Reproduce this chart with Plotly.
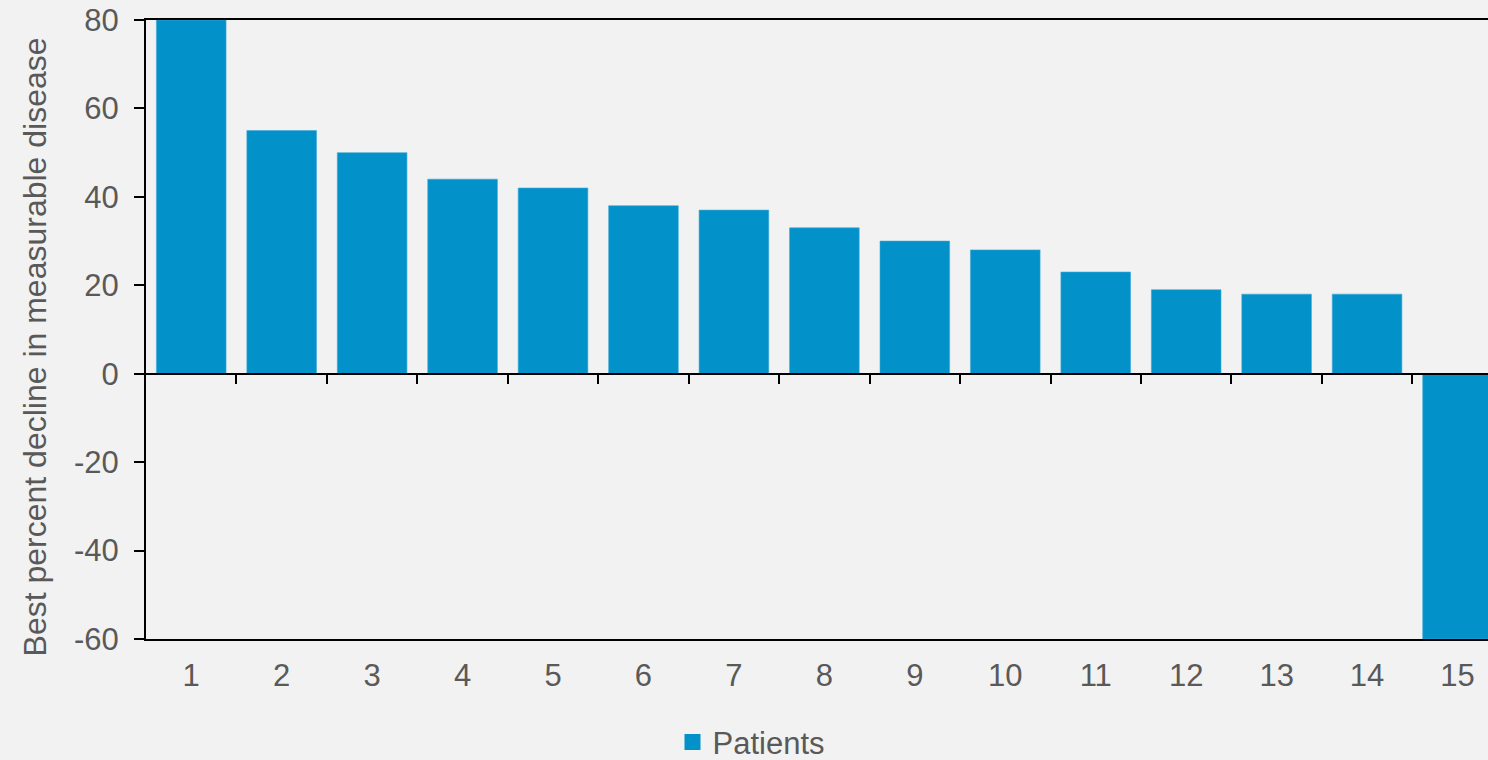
import plotly.graph_objects as go

# Best percent decline in measurable disease, one bar per patient
patients = list(range(1, 16))
best_decline = [80, 55, 50, 44, 42, 38, 37, 33, 30, 28, 23, 19, 18, 18, -60]
y_ticks = [-60, -40, -20, 0, 20, 40, 60, 80]
y_tick_text = ["-60", "-40", "-20", "0", "20", "40", "60", "80"]

BAR_COLOR = "#0291C8"
TEXT_COLOR = "#595959"
BG = "#F2F2F2"
FONT = "Liberation Sans, Arial, sans-serif"

x_range = [0.5, 15.337]
y_range = [-60, 80]

fig = go.Figure()

fig.add_trace(go.Bar(
    x=patients,
    y=best_decline,
    marker=dict(color=BAR_COLOR, line=dict(color="#3FA9D6", width=0.6)),
    width=0.77,
    showlegend=False,
    xaxis="x",
    yaxis="y",
))

# legend entry drawn as a square swatch
fig.add_trace(go.Scatter(
    x=[None], y=[None],
    mode="markers",
    marker=dict(symbol="square", size=16, color=BAR_COLOR),
    name="Patients",
    showlegend=True,
))

# invisible trace so the zero-line axis is built
fig.add_trace(go.Scatter(
    x=[None], y=[None], mode="markers", showlegend=False,
    hoverinfo="skip", xaxis="x2", yaxis="y",
))

zero_pos = (0 - y_range[0]) / (y_range[1] - y_range[0])

fig.update_layout(
    width=1488,
    height=760,
    margin=dict(l=146, r=0, t=20, b=121, autoexpand=False),
    paper_bgcolor=BG,
    plot_bgcolor=BG,
    font=dict(family=FONT, size=31, color=TEXT_COLOR),
    bargap=0.23,
    xaxis=dict(
        range=x_range,
        tickmode="array",
        tickvals=patients,
        ticktext=[str(p) for p in patients],
        ticks="",
        showline=True,
        linecolor="black",
        linewidth=2,
        mirror=True,
        showgrid=False,
        zeroline=False,
        automargin=False,
        ticklabelstandoff=8,
        tickfont=dict(family=FONT, size=31, color=TEXT_COLOR),
    ),
    xaxis2=dict(
        range=x_range,
        overlaying="x",
        anchor="free",
        position=zero_pos,
        side="bottom",
        tickmode="array",
        tickvals=[p + 0.5 for p in patients[:-1]],
        ticks="outside",
        ticklen=9,
        tickwidth=2,
        tickcolor="black",
        showticklabels=False,
        showline=True,
        linecolor="black",
        linewidth=2,
        showgrid=False,
        zeroline=False,
        automargin=False,
    ),
    yaxis=dict(
        range=y_range,
        tickmode="array",
        tickvals=y_ticks,
        ticktext=y_tick_text,
        ticks="outside",
        ticklen=10,
        tickwidth=2,
        tickcolor="black",
        showline=True,
        linecolor="black",
        linewidth=2,
        showgrid=False,
        zeroline=False,
        automargin=False,
        ticklabelstandoff=9,
        tickfont=dict(family=FONT, size=31, color=TEXT_COLOR),
    ),
    legend=dict(
        orientation="h",
        x=0.4512,
        xanchor="center",
        y=-0.167,
        yanchor="middle",
        bgcolor="rgba(0,0,0,0)",
        font=dict(family=FONT, size=31, color=TEXT_COLOR),
        itemwidth=30,
    ),
    annotations=[
        dict(
            text="Best percent decline in measurable disease",
            textangle=-90,
            xref="paper", yref="paper",
            x=-0.0827, y=0.471,
            xanchor="center", yanchor="middle",
            showarrow=False,
            font=dict(family=FONT, size=32, color=TEXT_COLOR),
        )
    ],
)

fig.write_html("out.html")
